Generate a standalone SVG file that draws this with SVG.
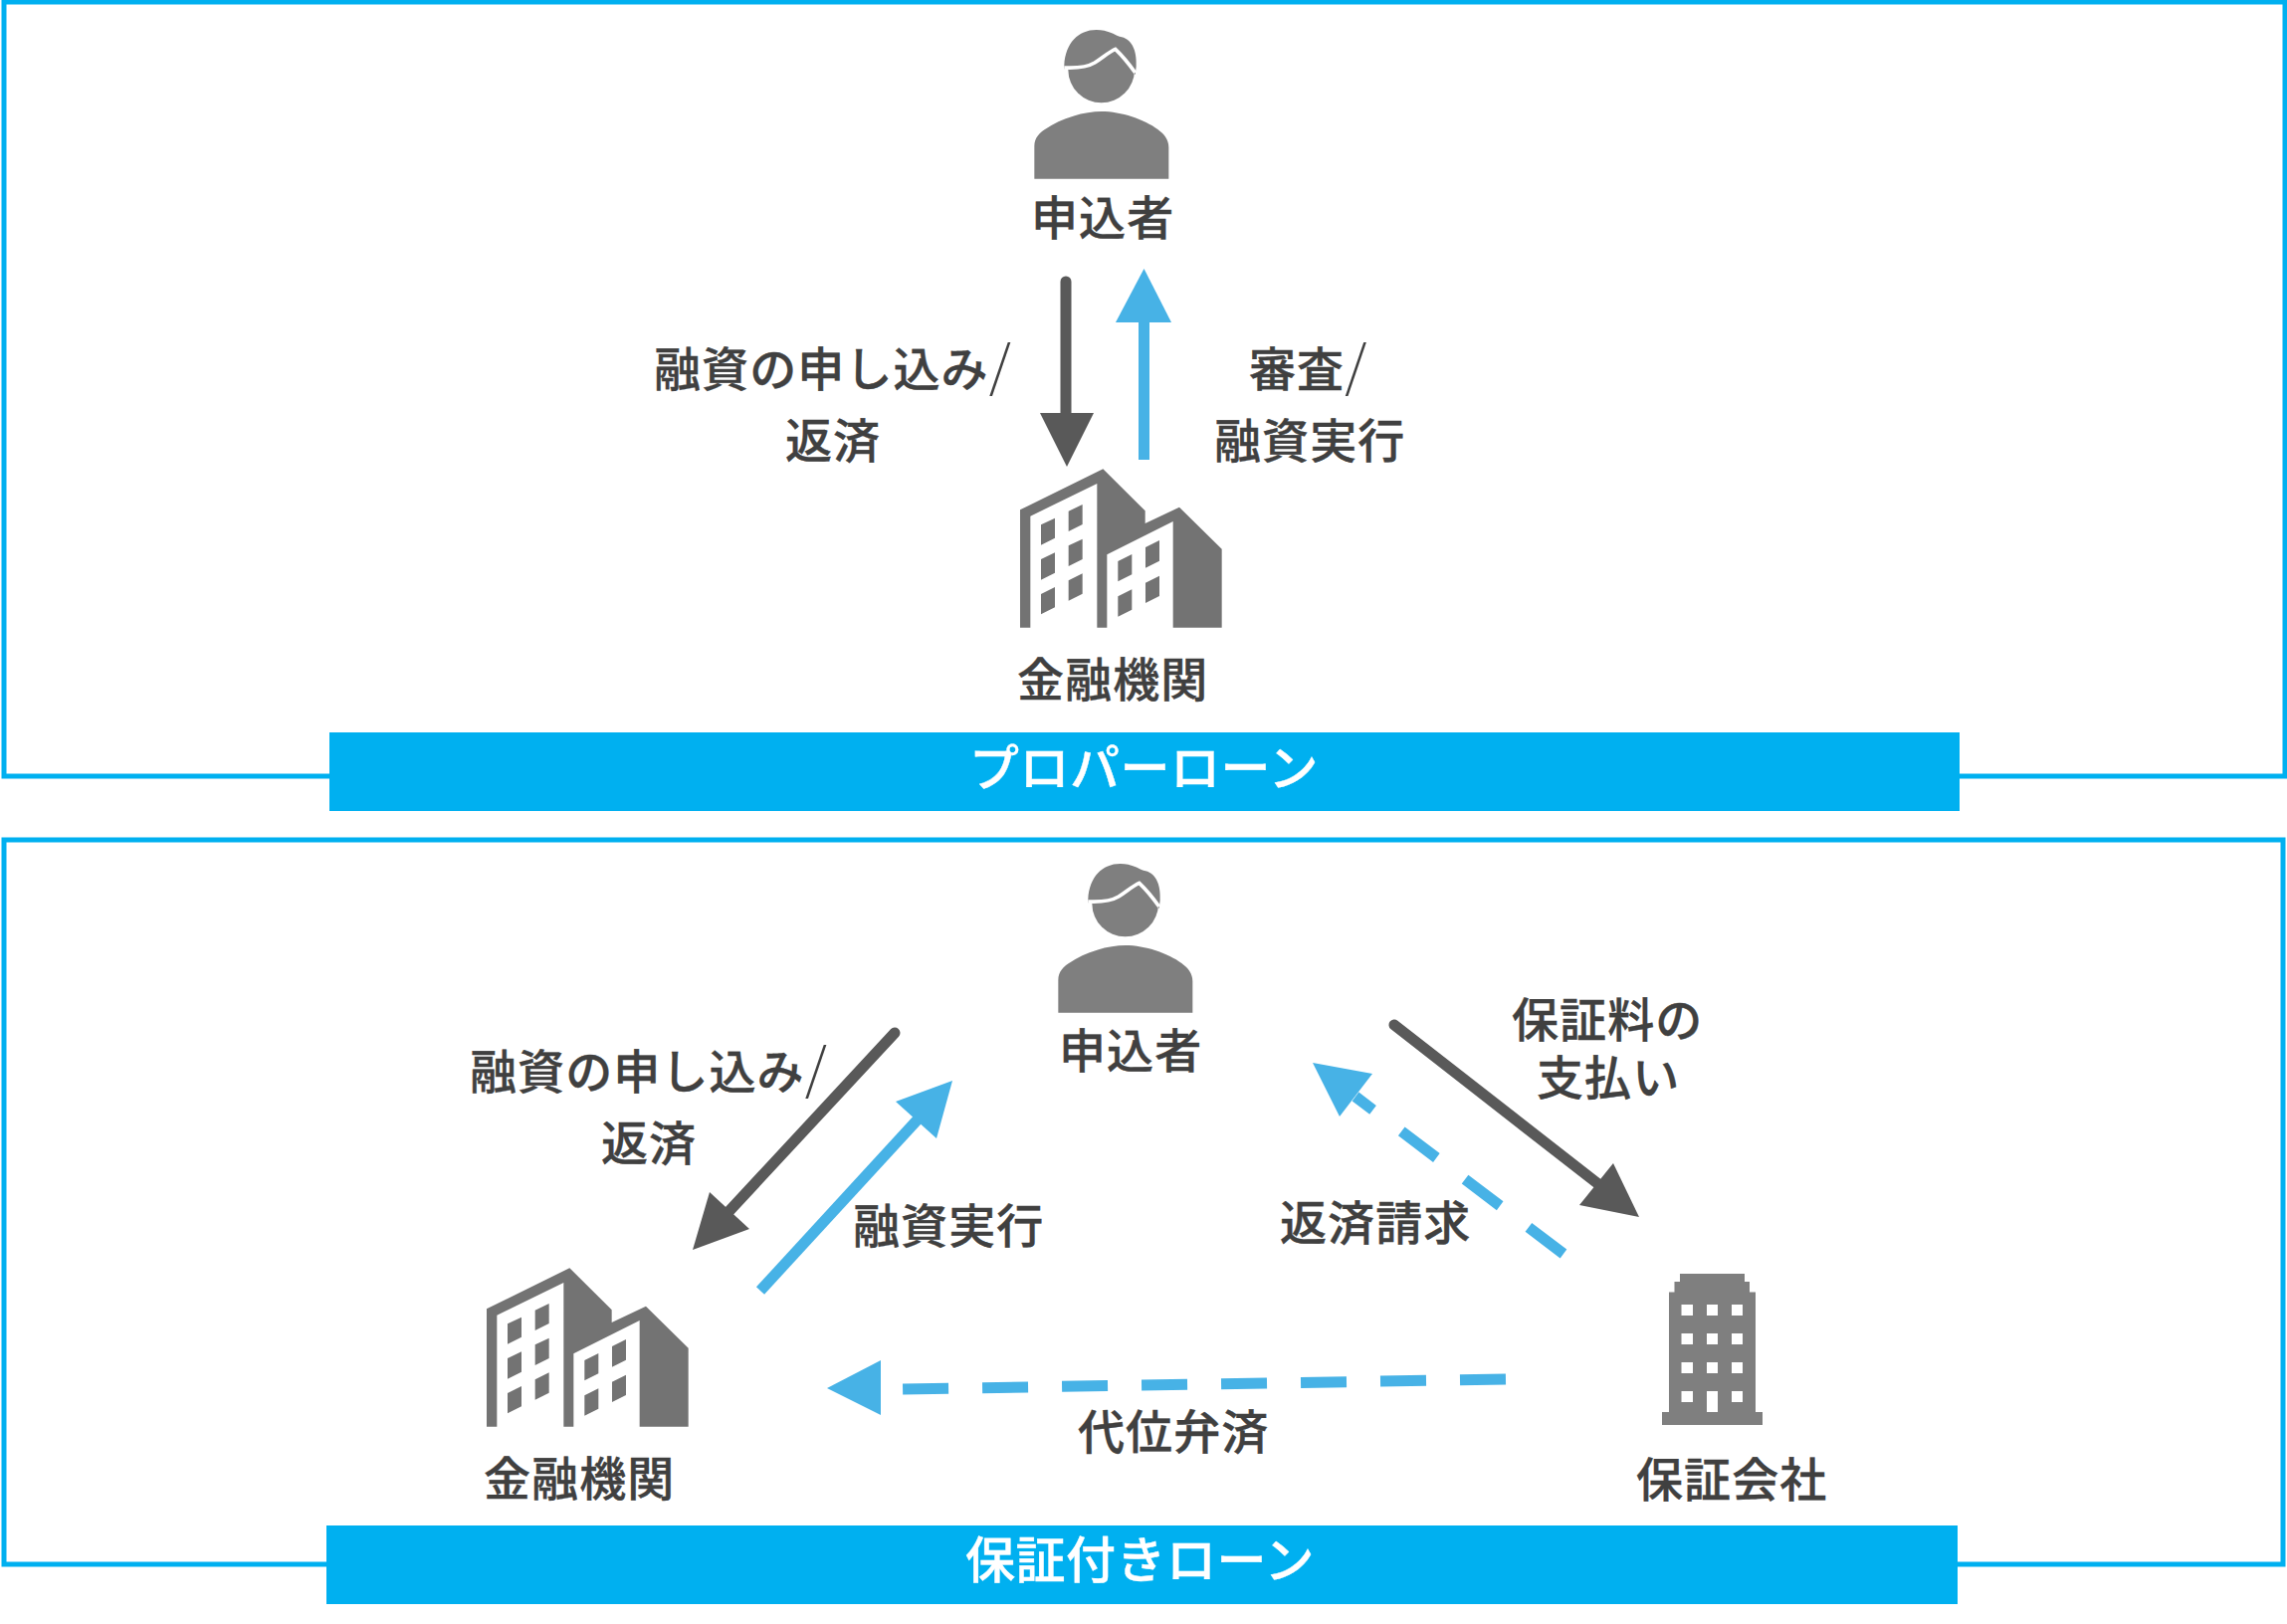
<svg xmlns="http://www.w3.org/2000/svg" xmlns:xlink="http://www.w3.org/1999/xlink" width="2298" height="1632" viewBox="0 0 2298 1632">
<style>
.frame{fill:none;stroke:#00b0f0;stroke-width:5}
.banner{fill:#00b0f0}
.t{font-family:"Noto Sans CJK JP","Noto Sans CJK SC",sans-serif;font-size:47px;font-weight:500;fill:#404040;stroke:#404040;stroke-width:.4px;letter-spacing:1.1px}
.w{fill:#fff;stroke:#fff;font-size:50px;letter-spacing:.5px}
.s{font-size:56px;font-weight:300;stroke-width:0}
.dark{stroke:#595959;stroke-width:11;stroke-linecap:round;fill:none}
.blue{stroke:#47b2e6;stroke-width:11;fill:none}
.dash{stroke-dasharray:44 36}
.dash2{stroke-dasharray:46 34}
.hd{fill:#595959}
.hb{fill:#47b2e6}
.person{fill:#7f7f7f}
.bldg{fill:#737373}
.tower{fill:#7f7f7f}
</style>
<defs>
<g id="person-icon" class="person">
<circle cx="470" cy="210" r="100"/>
<path d="M358 196C362 130 400 90 455 90C490 90 510 105 525 110C560 115 578 150 575 200L572 225L510 150L440 195L358 208Z"/>
<path d="M358 204C400 206 430 201 450 189C475 173 495 155 512 148C530 165 555 195 572 219" fill="none" stroke="#fff" stroke-width="11"/>
<path d="M268 539V440C268 415 285 400 300 390C350 355 420 336 470 336C530 336 600 360 640 390C660 405 673 420 673 445V539Z"/>
</g>
<g id="office-icon" class="bldg">
<path d="M105 187L355 64L482 190V228L585 179L713 305V542H566V222L367 322V542H337V108L136 206V542H105Z"/>
<path d="M168 232L210 212V272L168 293ZM251 191L293 171V231L251 252ZM168 336L210 316V377L168 398ZM251 295L293 275V336L251 357ZM168 441L210 420V481L168 502ZM251 400L293 379V440L251 461ZM400 342L442 321V382L400 403ZM483 300L525 279V341L483 362ZM400 448L442 427V488L400 509ZM483 407L525 386V447L483 468Z"/>
</g>
</defs>

<g id="frame-proper"><path class="frame" d="M331 780H4V2H2296V780H1969"/></g>
<g id="frame-guarantee"><path class="frame" d="M328 1572H4V844H2294V1572H1967"/></g>

<g id="connectors">
<path class="dark" d="M1071 283V425"/><path class="hd" d="M1045 415H1099L1072 469Z"/>
<path class="blue" d="M1149.500 462V315"/><path class="hb" d="M1121 324H1177L1149.500 270Z"/>
<path class="dark" d="M899 1038L730 1220"/><path class="hd" d="M713 1198L753 1235L696 1256Z"/>
<path class="blue" d="M764 1297L923 1124"/><path class="hb" d="M900 1107L941 1144L957 1086Z"/>
<path class="dark" d="M1401 1030L1610 1193"/><path class="hd" d="M1621 1169L1587 1211L1647 1223Z"/>
<path class="blue dash" d="M1571 1260L1362 1102"/><path class="hb" d="M1379 1079L1346 1122L1319 1068Z"/>
<path class="blue dash2" d="M1513 1386L906 1396"/><path class="hb" d="M885 1367V1422L831 1395Z"/>
</g>

<g id="node-applicant-1"><use xlink:href="#person-icon" href="#person-icon" transform="translate(950 0) scale(.33333)"/><text class="t" x="1036" y="236">申込者</text></g>
<g id="node-bank-1"><use xlink:href="#office-icon" href="#office-icon" transform="translate(990 450) scale(.33333)"/><text class="t" x="1022" y="700">金融機関</text></g>
<g id="label-apply-1"><text class="t" x="657" y="388">融資の申し込み<tspan class="s">/</tspan></text><text class="t" x="789" y="460">返済</text></g>
<g id="label-review"><text class="t" x="1255" y="388">審査<tspan class="s">/</tspan></text><text class="t" x="1220" y="460">融資実行</text></g>
<g id="banner-proper"><rect class="banner" x="331" y="736" width="1638" height="79"/><text class="t w" x="974" y="790">プロパーローン</text></g>

<g id="node-applicant-2"><use xlink:href="#person-icon" href="#person-icon" transform="translate(974 838) scale(.33333)"/><text class="t" x="1064" y="1073">申込者</text></g>
<g id="node-bank-2"><use xlink:href="#office-icon" href="#office-icon" transform="translate(454 1253) scale(.33333)"/><text class="t" x="486" y="1503">金融機関</text></g>
<g id="node-guarantor">
<path class="tower" d="M1688 1280H1753V1288H1758V1298.500H1764V1419H1771V1432H1670V1419H1677V1298.500H1682.500V1288H1688ZM1689.500 1311V1322H1701V1311ZM1715 1311V1322H1726V1311ZM1740 1311V1322H1751V1311ZM1689.500 1340V1351H1701V1340ZM1715 1340V1351H1726V1340ZM1740 1340V1351H1751V1340ZM1689.500 1369V1380H1701V1369ZM1715 1369V1380H1726V1369ZM1740 1369V1380H1751V1369ZM1689.500 1398V1409H1701V1398ZM1715 1398V1419H1726V1398ZM1740 1398V1409H1751V1398Z" fill-rule="evenodd"/>
<text class="t" x="1644" y="1504">保証会社</text></g>
<g id="label-apply-2"><text class="t" x="472" y="1094">融資の申し込み<tspan class="s">/</tspan></text><text class="t" x="604" y="1166">返済</text></g>
<g id="label-exec"><text class="t" x="857" y="1249">融資実行</text></g>
<g id="label-fee"><text class="t" x="1519" y="1042">保証料の</text><text class="t" x="1544" y="1100">支払い</text></g>
<g id="label-claim"><text class="t" x="1286" y="1246">返済請求</text></g>
<g id="label-subrogation"><text class="t" x="1083" y="1456">代位弁済</text></g>
<g id="banner-guarantee"><rect class="banner" x="328" y="1533" width="1639" height="79"/><text class="t w" x="970" y="1586">保証付きローン</text></g>
</svg>
